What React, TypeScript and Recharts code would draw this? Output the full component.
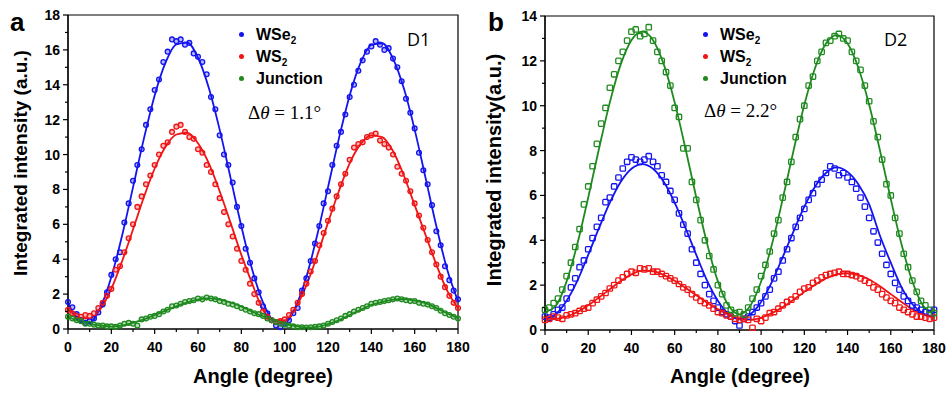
import { ComposedChart, Scatter, Line, XAxis, YAxis, ReferenceArea } from 'recharts'

// ── Data ─────────────────────────────────────────────────────────────────────
const ANGLES = [
  0, 2, 4, 6, 8, 10, 12, 14, 16, 18, 20, 22, 24, 26, 28, 30, 32, 34, 36, 38,
  40, 42, 44, 46, 48, 50, 52, 54, 56, 58, 60, 62, 64, 66, 68, 70, 72, 74, 76, 78,
  80, 82, 84, 86, 88, 90, 92, 94, 96, 98, 100, 102, 104, 106, 108, 110, 112, 114, 116, 118,
  120, 122, 124, 126, 128, 130, 132, 134, 136, 138, 140, 142, 144, 146, 148, 150, 152, 154, 156, 158,
  160, 162, 164, 166, 168, 170, 172, 174, 176, 178, 180,
]
const FIT_ANGLES = [
  0, 5, 10, 15, 20, 25, 30, 35, 40, 45, 50, 55, 60, 65, 70, 75, 80, 85, 90,
  95, 100, 105, 110, 115, 120, 125, 130, 135, 140, 145, 150, 155, 160, 165, 170, 175, 180,
]

// panel a (D1)
const A_WSE2 = [
  1.55, 1.25, 0.85, 0.5, 0.35, 0.45, 0.6, 0.95, 1.4, 2.1,
  3.1, 4.0, 4.4, 6.1, 7.2, 8.5, 9.4, 10.3, 11.7, 12.6,
  13.7, 14.3, 15.3, 15.9, 16.6, 16.5, 16.6, 16.3, 16.4, 15.8,
  15.6, 15.3, 14.6, 13.3, 12.6, 11.1, 10.0, 9.4, 8.4, 7.0,
  5.9, 4.6, 3.8, 2.9, 2.1,
  1.3, 0.9, 0.5, 0.2, 0.1, 0.3, 0.5, 0.9, 1.2, 2.2,
  2.9, 3.9, 4.9, 5.9, 7.2, 7.9, 9.4, 10.5, 11.3, 12.3,
  13.3, 14.0, 14.8, 15.4, 15.9, 16.2, 16.5, 16.3, 16.0, 16.1,
  15.5, 15.0, 14.2, 13.2, 12.4, 11.5, 10.1, 9.1, 8.3, 7.1,
  5.6, 4.8, 3.6, 2.8, 2.2, 1.7,
]
const A_WS2 = [
  1.1, 0.9, 0.75, 0.7, 0.8, 0.75, 0.9, 1.2, 1.5, 1.9,
  2.3, 3.4, 3.6, 4.4, 5.2, 6.0, 7.0, 7.6, 8.3, 8.8,
  9.4, 10.0, 10.5, 10.7, 11.3, 11.6, 11.7, 11.3, 11.0, 10.9,
  10.3, 10.1, 9.4, 9.0, 8.3, 7.5, 6.7, 6.0, 5.3, 4.6,
  3.9, 3.4, 2.6, 2.0, 1.5,
  1.0, 0.7, 0.5, 0.4, 0.45, 0.55, 0.8, 1.1, 1.5, 2.0,
  2.6, 3.3, 3.9, 4.8, 5.5, 6.2, 6.9, 7.6, 8.3, 8.9,
  9.7, 10.4, 10.6, 10.7, 11.0, 11.1, 11.2, 10.8, 10.6, 10.4,
  10.0, 9.3, 8.9, 8.5, 7.9, 7.2, 6.5, 5.8, 5.1, 4.4,
  3.7, 3.0, 2.4, 1.9, 1.5, 1.2,
]
const A_JUNCTION = [
  0.7, 0.6, 0.5, 0.45, 0.3, 0.3, 0.25, 0.2, 0.2, 0.15,
  0.15, 0.12, 0.2, 0.3, 0.35, 0.3, 0.2, 0.55, 0.6, 0.7,
  0.75, 0.85, 1.0, 1.1, 1.3, 1.35, 1.45, 1.55, 1.6, 1.65,
  1.75, 1.7, 1.8, 1.75, 1.7, 1.6, 1.55, 1.45, 1.4, 1.3,
  1.2, 1.1, 1.0, 0.9, 0.85,
  0.75, 0.6, 0.5, 0.4, 0.3, 0.25, 0.2, 0.15, 0.1, 0.1,
  0.08, 0.1, 0.12, 0.15, 0.2, 0.3, 0.4, 0.5, 0.6, 0.75,
  0.85, 1.0, 1.1, 1.2, 1.3, 1.45, 1.5, 1.55, 1.6, 1.65,
  1.7, 1.75, 1.7, 1.65, 1.6, 1.6, 1.5, 1.45, 1.4, 1.3,
  1.2, 1.05, 0.9, 0.8, 0.7, 0.6,
]
const A_WSE2_FIT = [
  1.53, 0.48, 0.38, 1.25, 2.98, 5.37, 8.12, 10.9, 13.39, 15.27, 16.32, 16.42, 15.55, 13.82, 11.43, 8.68, 5.9, 3.41,
  1.53, 0.48, 0.38, 1.25, 2.98, 5.37, 8.12, 10.9, 13.39, 15.25, 16.28, 16.38, 15.5, 13.8, 11.43, 8.68, 5.9, 3.41,
  1.6,
]
const A_WS2_FIT = [
  1.2, 0.65, 0.6, 1.15, 2.3, 3.9, 5.7, 7.55, 9.2, 10.45, 11.15, 11.25, 10.65, 9.5, 7.9, 6.1, 4.25, 2.6,
  1.1, 0.5, 0.5, 1.2, 2.5, 4.2, 6.1, 7.9, 9.5, 10.6, 11.1, 11.0, 10.2, 8.8, 7.1, 5.4, 3.7, 2.2,
  1.2,
]
const A_JUNCTION_FIT = [
  0.7, 0.45, 0.3, 0.2, 0.14, 0.2, 0.35, 0.55, 0.8, 1.05, 1.3, 1.52, 1.68, 1.75, 1.68, 1.52, 1.28, 1.0,
  0.72, 0.5, 0.3, 0.17, 0.09, 0.12, 0.28, 0.5, 0.8, 1.1, 1.38, 1.55, 1.68, 1.72, 1.62, 1.48, 1.2, 0.9,
  0.62,
]

// panel b (D2)
const B_WSE2 = [
  0.6, 0.55, 0.7, 0.9, 1.0, 1.4, 1.9, 2.3, 2.8, 3.1,
  3.6, 4.1, 4.6, 5.0, 5.7, 5.9, 6.4, 6.8, 7.2, 7.5,
  7.7, 7.6, 7.5, 7.6, 7.75, 7.5, 7.3, 6.9, 6.6, 6.2,
  5.8, 5.2, 4.7, 4.3, 3.6, 3.0, 2.5, 2.0, 1.6, 1.3,
  1.0, 0.8, 0.7, 0.6, 0.4,
  0.2, 0.5, 0.6, 0.8, 1.0, 1.2, 1.5, 1.8, 2.3, 2.6,
  3.1, 3.6, 4.1, 4.6, 5.0, 5.4, 5.8, 6.1, 6.5, 6.7,
  7.0, 7.3, 7.2, 6.9, 7.0, 6.8, 6.6, 6.3, 5.9, 5.5,
  5.0, 4.4, 3.9, 3.4, 2.9, 2.5, 2.1, 1.8, 1.5, 1.3,
  1.1, 1.0, 0.9, 0.8, 0.75, 0.9,
]
const B_WS2 = [
  0.45, 0.5, 0.6, 0.55, 0.5, 0.65, 0.7, 0.75, 0.85, 0.95,
  1.0, 1.2, 1.35, 1.5, 1.65, 1.85, 2.0, 2.2, 2.35, 2.5,
  2.6, 2.55, 2.75, 2.7, 2.75, 2.6, 2.6, 2.5, 2.4, 2.3,
  2.2, 2.05, 1.9, 1.8, 1.6, 1.45, 1.3, 1.2, 1.1, 0.95,
  0.8, 0.75, 0.65, 0.6, 0.5,
  0.45, 0.5, 0.45, 0.1, 0.5, 0.4, 0.55, 0.75, 0.8, 0.95,
  1.1, 1.25, 1.35, 1.5, 1.7, 1.85, 1.9, 2.1, 2.2, 2.35,
  2.45, 2.5, 2.55, 2.6, 2.5, 2.5, 2.45, 2.4, 2.3, 2.2,
  2.1, 1.9, 1.8, 1.6, 1.45, 1.3, 1.2, 1.0, 0.9, 0.8,
  0.7, 0.6, 0.6, 0.55, 0.5, 0.55,
]
const B_JUNCTION = [
  0.9, 1.0, 1.2, 1.4, 1.8, 2.4, 3.0, 3.7, 4.5, 5.6,
  6.4, 7.3, 8.3, 9.2, 9.9, 10.8, 11.4, 12.0, 12.4, 12.9,
  13.3, 13.4, 13.1, 13.2, 13.5, 12.9, 12.4, 12.0, 11.5, 10.9,
  9.9, 9.5, 8.1, 8.1, 6.6, 5.8, 4.9, 4.0, 3.3, 2.7,
  2.0, 1.6, 1.1, 0.9, 0.75,
  0.8, 0.7, 1.0, 1.4, 1.8, 2.4, 2.9, 3.5, 4.3, 4.9,
  5.9, 6.6, 7.5, 8.6, 9.4, 10.0, 10.9, 11.3, 12.0, 12.4,
  12.8, 12.9, 13.1, 13.2, 13.0, 12.9, 12.4, 12.0, 11.6, 10.9,
  10.2, 9.3, 8.6, 7.6, 6.5, 6.0, 5.0, 4.3, 3.4, 2.8,
  2.2, 1.7, 1.3, 1.1, 0.9, 0.75,
]
const B_WSE2_FIT = [
  0.5, 0.7, 1.3, 2.2, 3.35, 4.55, 5.68, 6.6, 7.19, 7.4, 7.19, 6.6, 5.68, 4.55, 3.35, 2.2, 1.3, 0.7,
  0.5, 0.7, 1.25, 2.15, 3.25, 4.4, 5.5, 6.4, 7.0, 7.25, 7.05, 6.5, 5.6, 4.2, 3.0, 1.9, 1.15, 0.75,
  0.6,
]
const B_WS2_FIT = [
  0.5, 0.5, 0.6, 0.8, 1.1, 1.45, 1.82, 2.18, 2.48, 2.65, 2.62, 2.45, 2.2, 1.88, 1.55, 1.22, 0.92, 0.68,
  0.47, 0.45, 0.55, 0.75, 1.02, 1.35, 1.7, 2.02, 2.3, 2.48, 2.53, 2.45, 2.25, 1.95, 1.6, 1.25, 0.92, 0.68,
  0.55,
]
const B_JUNCTION_FIT = [
  0.8, 1.08, 2.17, 3.85, 5.91, 8.09, 10.15, 11.83, 12.92, 13.3, 12.92, 11.83, 10.15, 8.09, 5.91, 3.85, 2.17, 1.08,
  0.7, 1.08, 2.16, 3.81, 5.84, 8.0, 10.04, 11.69, 12.77, 13.15, 12.77, 11.69, 10.04, 8.0, 5.84, 3.81, 2.16, 1.08,
  0.75,
]

const X_TICKS = [0, 10, 20, 30, 40, 50, 60, 70, 80, 90, 100, 110, 120, 130, 140, 150, 160, 170, 180]
const Y_TICKS_A = [0, 1, 2, 3, 4, 5, 6, 7, 8, 9, 10, 11, 12, 13, 14, 15, 16, 17, 18]
const Y_TICKS_B = [0, 1, 2, 3, 4, 5, 6, 7, 8, 9, 10, 11, 12, 13, 14]

const BLUE  = '#1414f0'
const RED   = '#f01414'
const GREEN = '#1f8a1f'
const BOLD  = '"Liberation Sans", Arial, sans-serif'

const rows = (xs: number[], wse2: number[], ws2: number[], junction: number[]) =>
  xs.map((angle, i) => ({ angle, wse2: wse2[i], ws2: ws2[i], junction: junction[i] }))

const ptsA = rows(ANGLES, A_WSE2, A_WS2, A_JUNCTION)
const fitA = rows(FIT_ANGLES, A_WSE2_FIT, A_WS2_FIT, A_JUNCTION_FIT)
const ptsB = rows(ANGLES, B_WSE2, B_WS2, B_JUNCTION)
const fitB = rows(FIT_ANGLES, B_WSE2_FIT, B_WS2_FIT, B_JUNCTION_FIT)

// ── Ticks ────────────────────────────────────────────────────────────────────
function XTick({ x, y, payload }: any) {
  const major = payload.value % 20 === 0
  return (
    <g>
      <line x1={x} x2={x} y1={y} y2={y + (major ? 5 : 3)} stroke="#000" strokeWidth={1.2} />
      {major && (
        <text x={x} y={y + 23} textAnchor="middle" fontFamily={BOLD} fontWeight="bold" fontSize={14} fill="#000">
          {payload.value}
        </text>
      )}
    </g>
  )
}

function YTick({ x, y, payload }: any) {
  const major = payload.value % 2 === 0
  return (
    <g>
      <line x1={x} x2={x - (major ? 5 : 3)} y1={y} y2={y} stroke="#000" strokeWidth={1.2} />
      {major && (
        <text x={x - 8} y={y + 5} textAnchor="end" fontFamily={BOLD} fontWeight="bold" fontSize={14} fill="#000">
          {payload.value}
        </text>
      )}
    </g>
  )
}

const circle = (color: string) => (p: any) => (
  <circle cx={p.cx} cy={p.cy} r={2.4} fill={color} fillOpacity={0.3} stroke={color} strokeWidth={1.3} />
)
const square = (color: string) => (p: any) => (
  <rect x={p.cx - 2.7} y={p.cy - 2.7} width={5.4} height={5.4} rx={1} fill="none" stroke={color} strokeWidth={1.3} />
)

// ── Panel ────────────────────────────────────────────────────────────────────
function Panel({ pts, fit, yMax, yTicks, marker, margin }: any) {
  const series = [
    { key: 'wse2', color: BLUE },
    { key: 'ws2', color: RED },
    { key: 'junction', color: GREEN },
  ]
  return (
    <ComposedChart width={476} height={396} margin={margin}>
      <XAxis
        xAxisId={0} dataKey="angle" type="number" domain={[0, 180]} ticks={X_TICKS}
        height={60} tickSize={0} tickMargin={0} tickLine={false} tick={<XTick />}
        axisLine={{ stroke: '#000', strokeWidth: 1.2 }} interval={0}
      />
      <YAxis
        yAxisId={0} type="number" domain={[0, yMax]} ticks={yTicks} width={50}
        tickSize={0} tickMargin={0} tickLine={false} tick={<YTick />}
        axisLine={{ stroke: '#000', strokeWidth: 1.2 }} interval={0}
      />
      <ReferenceArea x1={0} x2={180} y1={0} y2={yMax} fill="none" stroke="#000" strokeWidth={1.2} ifOverflow="visible" />
      {series.map(s => (
        <Scatter key={`p-${s.key}`} data={pts} dataKey={s.key} shape={marker(s.color)} isAnimationActive={false} />
      ))}
      {series.map(s => (
        <Line
          key={`l-${s.key}`} data={fit} dataKey={s.key} type="monotone" stroke={s.color}
          strokeWidth={1.8} dot={false} activeDot={false} isAnimationActive={false}
        />
      ))}
    </ComposedChart>
  )
}

function LegendBlock({ left, top, gap }: { left: number; top: number; gap: number }) {
  const items = [
    { color: BLUE, label: <>WSe<sub style={{ fontSize: 10 }}>2</sub></> },
    { color: RED, label: <>WS<sub style={{ fontSize: 10 }}>2</sub></> },
    { color: GREEN, label: <>Junction</> },
  ]
  return (
    <div style={{ position: 'absolute', left, top, fontFamily: BOLD, fontWeight: 'bold', fontSize: 16 }}>
      {items.map((it, i) => (
        <div key={i} style={{ position: 'absolute', top: i * gap, left: 0, whiteSpace: 'nowrap', lineHeight: '16px', height: 16 }}>
          <span style={{
            position: 'absolute', left: -3, top: 5, width: 5, height: 5, borderRadius: 3, background: it.color,
          }} />
          <span style={{ position: 'absolute', left: 14, top: 0 }}>{it.label}</span>
        </div>
      ))}
    </div>
  )
}

const abs = (s: any) => ({ position: 'absolute' as const, ...s })

export default function App() {
  return (
    <div style={{ position: 'absolute', left: 0, top: 0, width: 951, height: 396, background: '#fff', fontFamily: BOLD }}>
      <div style={abs({ left: 0, top: 0 })}>
        <Panel pts={ptsA} fit={fitA} yMax={18} yTicks={Y_TICKS_A} marker={circle}
          margin={{ top: 15, right: 18, left: 18, bottom: 7 }} />
      </div>
      <div style={abs({ left: 475, top: 0 })}>
        <Panel pts={ptsB} fit={fitB} yMax={14} yTicks={Y_TICKS_B} marker={square}
          margin={{ top: 16, right: 17, left: 20, bottom: 6 }} />
      </div>

      {/* panel letters */}
      <div style={abs({ left: 10, top: 7, fontSize: 26, fontWeight: 'bold' })}>a</div>
      <div style={abs({ left: 488, top: 7, fontSize: 26, fontWeight: 'bold' })}>b</div>

      {/* axis titles */}
      {[
        { cx: 21, cy: 163, text: 'Integrated intensity (a.u.)', size: 19 },
        { cx: 494, cy: 170, text: 'Integrated intensity(a.u.)', size: 20 },
      ].map((t, i) => (
        <div key={i} style={abs({
          left: t.cx - 170, top: t.cy - 12, width: 340, height: 24, lineHeight: '24px', textAlign: 'center',
          transform: 'rotate(-90deg)', fontSize: t.size, fontWeight: 'bold', whiteSpace: 'nowrap',
        })}>{t.text}</div>
      ))}
      {[263, 740].map((cx, i) => (
        <div key={i} style={abs({
          left: cx - 110, top: 364, width: 220, textAlign: 'center', fontSize: 20, fontWeight: 'bold', lineHeight: '24px',
        })}>Angle (degree)</div>
      ))}

      {/* legends */}
      <LegendBlock left={242} top={27} gap={22} />
      <LegendBlock left={706} top={27} gap={22} />

      {/* annotations */}
      <div style={abs({ left: 407, top: 27, fontSize: 18, fontFamily: '"Open Sans", sans-serif' })}>D1</div>
      <div style={abs({ left: 884, top: 27, fontSize: 18, fontFamily: '"Open Sans", sans-serif' })}>D2</div>
      <div style={abs({ left: 248, top: 102, fontSize: 19, fontFamily: '"Liberation Serif", serif', whiteSpace: 'nowrap' })}>
        Δ<i>θ</i> = 1.1°
      </div>
      <div style={abs({ left: 704, top: 100, fontSize: 19, fontFamily: '"Liberation Serif", serif', whiteSpace: 'nowrap' })}>
        Δ<i>θ</i> = 2.2°
      </div>
    </div>
  )
}
